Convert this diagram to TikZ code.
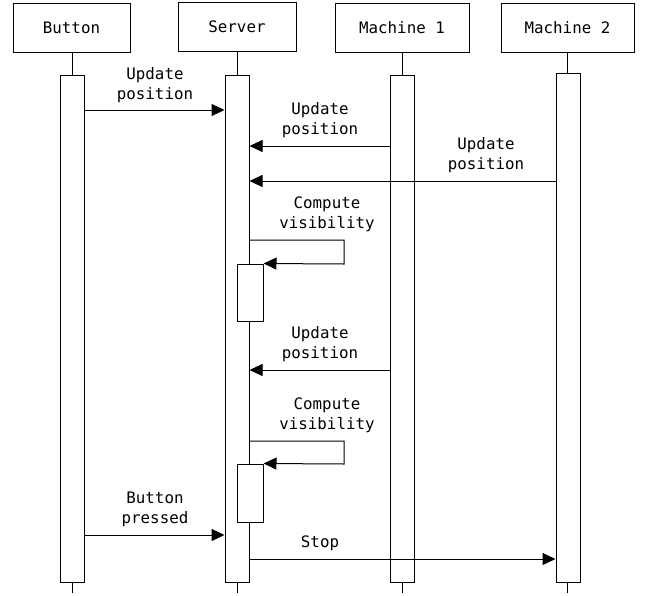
\documentclass[tikz,border=0pt]{standalone}
\usepackage{fontspec}
\setmonofont{DejaVu Sans Mono}
\usetikzlibrary{arrows.meta}
\begin{document}
\begin{tikzpicture}[x=1pt,y=-1pt,line width=1pt,
  txt/.style={font=\ttfamily\fontsize{15.8}{20}\selectfont},
  head/.style={draw,fill=white,inner sep=0pt,minimum height=49pt,txt},
  act/.style={draw,fill=white,inner sep=0pt,minimum width=24pt},
  sub/.style={draw,fill=white,inner sep=0pt,minimum width=26pt},
  lbl/.style={inner sep=0pt,align=center,txt},
  msg/.style={-{Triangle[length=13pt,width=12pt]}},
  life/.style={draw}]
\useasboundingbox (0,0) rectangle (651,595);

% participants
\node[head,minimum width=117pt] (hb) at (71.5,27.5) {Button};
\node[head,minimum width=118pt] (hs) at (237,26.5) {Server};
\node[head,minimum width=134pt] (hm1) at (402,27.5) {Machine 1};
\node[head,minimum width=133pt] (hm2) at (567.5,27.5) {Machine 2};

% lifeline ends
\coordinate (eb) at (72,593);
\coordinate (es) at (237,593);
\coordinate (em1) at (402,593);
\coordinate (em2) at (567,593);
\draw (hb.south -| eb) -- (eb);
\draw (hs.south -| es) -- (es);
\draw (hm1.south -| em1) -- (em1);
\draw (hm2.south -| em2) -- (em2);

% activation bars
\node[act,minimum height=507pt] (ab) at (72,328.5) {};
\node[act,minimum height=507pt] (as) at (237,328.5) {};
\node[act,minimum height=507pt] (am1) at (402,328.5) {};
\node[act,minimum height=509pt] (am2) at (568,327.5) {};

% nested activations on the server
\node[sub,minimum height=57pt] (n1) at (250,292.5) {};
\node[sub,minimum height=58pt] (n2) at (250,493) {};

% messages
\node[lbl] (l1) at (155,85) {Update\\position};
\draw[msg] (ab.east |- 0,110) -- (as.west |- 0,110);

\node[lbl] (l2) at (320,120) {Update\\position};
\draw[msg] (am1.west |- 0,146) -- (as.east |- 0,146);

\node[lbl] (l3) at (486,155.5) {Update\\position};
\draw[msg] (am2.west |- 0,181) -- (as.east |- 0,181);

\node[lbl] (l4) at (327,214.5) {Compute\\visibility};
\coordinate (c1) at (344,240);
\coordinate (c2) at (344,264);
\draw[msg] (as.east |- c1) -- (c1) -- (c2) -- (n1.north east);

\node[lbl] (l5) at (320,344.5) {Update\\position};
\draw[msg] (am1.west |- 0,370) -- (as.east |- 0,370);

\node[lbl] (l6) at (327,415.5) {Compute\\visibility};
\coordinate (c3) at (344,441);
\coordinate (c4) at (344,464);
\draw[msg] (as.east |- c3) -- (c3) -- (c4) -- (n2.north east);

\node[lbl] (l7) at (155,509) {Button\\pressed};
\draw[msg] (ab.east |- 0,535) -- (as.west |- 0,535);

\node[lbl] (l8) at (320,543) {Stop};
\draw[msg] (as.east |- 0,559) -- (am2.west |- 0,559);
\end{tikzpicture}
\end{document}
